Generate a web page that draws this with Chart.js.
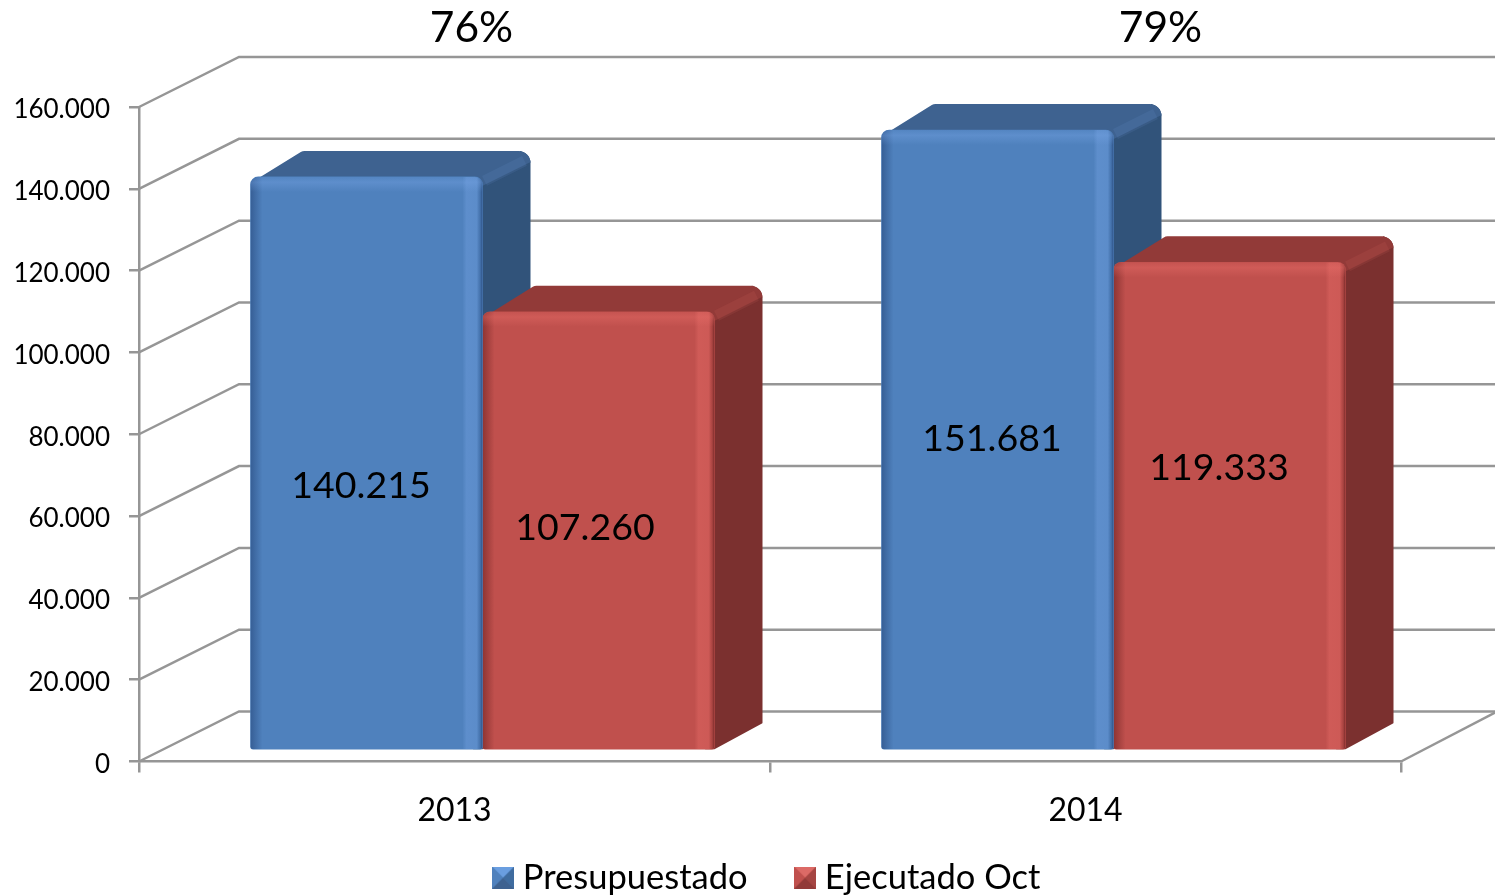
<!DOCTYPE html>
<html>
<head>
<meta charset="utf-8">
<style>
  html, body { margin: 0; padding: 0; background: #fff; }
  #wrap { width: 1495px; height: 896px; }
</style>
<script src="https://cdn.jsdelivr.net/npm/chart.js@4"></script>
</head>
<body>
<div id="wrap"><canvas id="budgetChart"></canvas></div>
<script>
// data
const years = ["2013", "2014"];
const presupuestado = [140215, 151681];
const ejecutado = [107260, 119333];
const percentLabels = ["76%", "79%"];
const seriesNames = ["Presupuestado", "Ejecutado Oct"];
const yMax = 160000;
const yStep = 20000;

const FONT = "Lato";
const GRID = "#969696";
const BAR_DX = 28, BAR_DY = -11;      // bars stand a bit behind the front floor edge
const DEPTH_X = 48, DEPTH_Y = -26;    // bar extrusion
const WALL_X = 100, WALL_Y = -50;     // back wall offset

const skins = [
  { front: "#4f81bd", top: "#3e6290", side: "#31537a", glow: "125,170,235", shade: "30,60,110", peak: "#6a9ee0", dim: "#3f6c9f" },
  { front: "#c0504d", top: "#923a38", side: "#7b302f", glow: "240,115,110", shade: "90,25,25", peak: "#dc6a66", dim: "#a54542" }
];

function dotted(v) {
  return String(v).replace(/\B(?=(\d{3})+(?!\d))/g, ".");
}

// polygon with its own corner radius on each point: [x, y, r]
function roundPoly(ctx, pts) {
  const n = pts.length;
  ctx.beginPath();
  ctx.moveTo((pts[n - 1][0] + pts[0][0]) / 2, (pts[n - 1][1] + pts[0][1]) / 2);
  for (let i = 0; i < n; i++) {
    const next = pts[(i + 1) % n];
    ctx.arcTo(pts[i][0], pts[i][1], next[0], next[1], pts[i][2]);
  }
  ctx.closePath();
}

// small bevelled square for the legend
function legendSwatch(skin) {
  const c = document.createElement("canvas");
  c.width = 22; c.height = 22;
  const g = c.getContext("2d");
  const tri = (pts, col) => {
    g.fillStyle = col;
    g.beginPath();
    g.moveTo(pts[0][0], pts[0][1]);
    g.lineTo(pts[1][0], pts[1][1]);
    g.lineTo(pts[2][0], pts[2][1]);
    g.closePath();
    g.fill();
  };
  g.fillStyle = skin.front;
  g.fillRect(0, 0, 22, 22);
  tri([[0, 0], [22, 0], [11, 11]], skin.peak);
  tri([[0, 0], [0, 22], [11, 11]], skin.front);
  tri([[22, 0], [22, 22], [11, 11]], skin.dim);
  tri([[0, 22], [22, 22], [11, 11]], skin.top);
  return c;
}

const wallPlugin = {
  id: "wall",
  afterLayout(chart) {
    // native legend, only nudged to where the reference has it
    chart.legend.left += 70;
    chart.legend.right += 70;
    chart.legend.top += 9;
    chart.legend.bottom += 9;
    // the year labels run past the short axis box, do not let them be clipped
    chart.scales.x.bottom += 60;
  },
  beforeDatasetsDraw(chart) {
    const ctx = chart.ctx, y = chart.scales.y, a = chart.chartArea;
    ctx.save();
    ctx.strokeStyle = GRID;
    ctx.lineWidth = 2.5;
    y.ticks.forEach(t => {
      const py = y.getPixelForValue(t.value);
      ctx.beginPath();
      ctx.moveTo(a.left, py);
      ctx.lineTo(a.left + WALL_X, py + WALL_Y);
      ctx.lineTo(chart.width, py + WALL_Y);
      ctx.stroke();
    });
    const py0 = y.getPixelForValue(0);
    ctx.beginPath();
    ctx.moveTo(a.right, py0);
    ctx.lineTo(chart.width, py0 + WALL_Y * 0.98);
    ctx.stroke();
    ctx.restore();
  }
};

const bars3dPlugin = {
  id: "bars3d",
  beforeDatasetsDraw(chart) {
    const ctx = chart.ctx;
    ctx.save();
    ctx.translate(BAR_DX, BAR_DY);
    // extrusions first, blue before red, so red's faces cover blue's side
    chart.data.datasets.forEach((ds, d) => {
      const skin = skins[d];
      chart.getDatasetMeta(d).data.forEach(bar => {
        const L = bar.x - bar.width / 2, R = bar.x + bar.width / 2, T = bar.y, B = bar.base;
        const backT = T + DEPTH_Y;
        ctx.fillStyle = skin.side;
        roundPoly(ctx, [[R - 10, T + 8, 1], [R + DEPTH_X - 10, backT, 4], [R + DEPTH_X, backT, 12], [R + DEPTH_X, B + DEPTH_Y, 1], [R, B, 2], [R - 10, B, 1]]);
        ctx.fill();
        ctx.fillStyle = skin.top;
        roundPoly(ctx, [[L + 2, T + 5, 2], [L + DEPTH_X + 4, backT, 7], [R + DEPTH_X, backT, 12], [R + DEPTH_X, backT + 11, 1], [R, T + 9, 1]]);
        ctx.fill();
        // lighter ridge between top and side
        ctx.save();
        ctx.strokeStyle = "rgba(" + skin.glow + ",0.10)";
        ctx.lineWidth = 11;
        ctx.beginPath();
        ctx.moveTo(R + 2, T + 4);
        ctx.lineTo(R + DEPTH_X - 6, backT + 10);
        ctx.stroke();
        ctx.restore();
      });
    });
  },
  afterDatasetDraw(chart, args) {
    const ctx = chart.ctx, skin = skins[args.index];
    args.meta.data.forEach(bar => {
      const x = bar.x - bar.width / 2, w = bar.width, y = bar.y, h = bar.base - bar.y;
      ctx.save();
      ctx.beginPath();
      ctx.roundRect(x, y, w, h, [8, 8, 3, 3]);
      ctx.clip();
      let g = ctx.createLinearGradient(x, 0, x + 12, 0);
      g.addColorStop(0, "rgba(" + skin.shade + ",0.5)");
      g.addColorStop(1, "rgba(" + skin.shade + ",0)");
      ctx.fillStyle = g;
      ctx.fillRect(x, y, 12, h);
      g = ctx.createLinearGradient(x + w - 20, 0, x + w, 0);
      g.addColorStop(0, "rgba(" + skin.glow + ",0)");
      g.addColorStop(0.2, "rgba(" + skin.glow + ",0.32)");
      g.addColorStop(0.72, "rgba(" + skin.glow + ",0.28)");
      g.addColorStop(0.88, "rgba(" + skin.shade + ",0.2)");
      g.addColorStop(1, "rgba(" + skin.shade + ",0.7)");
      ctx.fillStyle = g;
      ctx.fillRect(x + w - 20, y, 20, h);
      g = ctx.createLinearGradient(0, y, 0, y + 15);
      g.addColorStop(0, "rgba(" + skin.glow + ",0.1)");
      g.addColorStop(0.35, "rgba(" + skin.glow + ",0.32)");
      g.addColorStop(1, "rgba(" + skin.glow + ",0)");
      ctx.fillStyle = g;
      ctx.fillRect(x, y, w, 15);
      ctx.restore();
    });
  },
  afterDatasetsDraw(chart) {
    chart.ctx.restore();
  }
};

// text on the bars and the percentages above them, offsets per year / per series
const labelNudge = [[[22.5, 11], [14.5, -14.5]], [[22.5, -12.5], [17.5, -50]]];
const percentNudge = [17, 75];
const textPlugin = {
  id: "texts",
  afterDraw(chart) {
    const ctx = chart.ctx, y = chart.scales.y, x = chart.scales.x;
    ctx.save();
    ctx.fillStyle = "#000";
    ctx.textAlign = "center";
    ctx.textBaseline = "middle";
    ctx.font = "37.5px " + FONT;
    chart.data.datasets.forEach((ds, d) => {
      chart.getDatasetMeta(d).data.forEach((bar, i) => {
        const mid = y.getPixelForValue(ds.data[i] / 2);
        ctx.fillText(dotted(ds.data[i]), bar.x + labelNudge[i][d][0], mid + labelNudge[i][d][1]);
      });
    });
    ctx.font = "42.5px " + FONT;
    percentLabels.forEach((p, i) => {
      ctx.fillText(p, x.getPixelForValue(i) + percentNudge[i], 28);
    });
    ctx.restore();
  }
};

const ctx = document.getElementById("budgetChart").getContext("2d");
const budgetChart = new Chart(ctx, {
  type: "bar",
  data: {
    labels: years,
    datasets: [
      { label: seriesNames[0], data: presupuestado, backgroundColor: skins[0].front },
      { label: seriesNames[1], data: ejecutado, backgroundColor: skins[1].front }
    ]
  },
  plugins: [wallPlugin, bars3dPlugin, textPlugin],
  options: {
    responsive: true,
    maintainAspectRatio: false,
    animation: false,
    font: { family: FONT },
    layout: { padding: { top: 107, right: 94, left: 0, bottom: 0 } },
    datasets: {
      bar: {
        barThickness: 232,
        borderRadius: { topLeft: 8, topRight: 8, bottomLeft: 3, bottomRight: 3 },
        borderSkipped: false,
        borderWidth: 0,
        clip: false
      }
    },
    plugins: {
      tooltip: { enabled: false },
      legend: {
        position: "bottom",
        labels: {
          color: "#000",
          font: { family: FONT, size: 34.5 },
          padding: 55,
          usePointStyle: true,
          pointStyleWidth: 5,
          generateLabels(chart) {
            return chart.data.datasets.map((ds, i) => ({
              text: ds.label,
              fontColor: "#000",
              pointStyle: legendSwatch(skins[i]),
              datasetIndex: i,
              hidden: false,
              lineWidth: 0
            }));
          }
        }
      }
    },
    scales: {
      x: {
        grid: { drawOnChartArea: false, color: GRID, lineWidth: 2.5, tickLength: 11, tickColor: GRID },
        border: { color: GRID, width: 2.5 },
        ticks: { color: "#000", font: { family: FONT, size: 32 }, padding: 19, maxRotation: 0 },
        afterFit(scale) { scale.height = 35; }
      },
      y: {
        min: 0,
        max: yMax,
        grid: { drawOnChartArea: false, color: GRID, lineWidth: 2.5, tickLength: 10, tickColor: GRID },
        border: { color: GRID, width: 2.5 },
        ticks: {
          stepSize: yStep,
          color: "#000",
          font: { family: FONT, size: 26 },
          padding: 19,
          labelOffset: 3,
          callback: v => dotted(v)
        },
        afterFit(scale) { scale.width = 139; }
      }
    }
  }
});
</script>
</body>
</html>
